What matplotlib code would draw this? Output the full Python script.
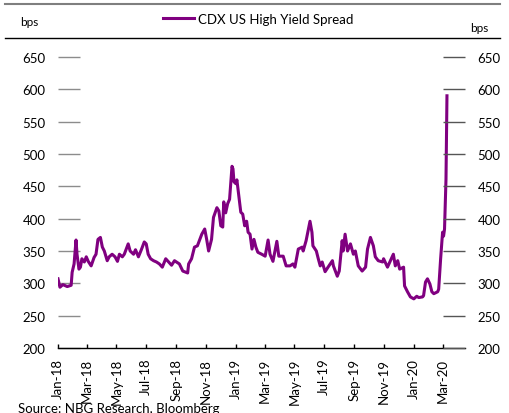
import matplotlib
matplotlib.use("Agg")
import matplotlib.pyplot as plt
import matplotlib.dates as mdates
from matplotlib.lines import Line2D
import pandas as pd

# ── data (bps) ───────────────────────────────────────────────────────────
dates = [
    "2018-01-01", "2018-01-05", "2018-01-11", "2018-01-20", "2018-01-28", "2018-01-30",
    "2018-02-03", "2018-02-07", "2018-02-09", "2018-02-13", "2018-02-16", "2018-02-19",
    "2018-02-24", "2018-02-28", "2018-03-04", "2018-03-10", "2018-03-16", "2018-03-20",
    "2018-03-24", "2018-03-29", "2018-04-02", "2018-04-06", "2018-04-12", "2018-04-16",
    "2018-04-22", "2018-04-28", "2018-05-03", "2018-05-07", "2018-05-13", "2018-05-17",
    "2018-05-25", "2018-05-29", "2018-06-05", "2018-06-09", "2018-06-15", "2018-06-21",
    "2018-06-27", "2018-07-01", "2018-07-05", "2018-07-10", "2018-07-16", "2018-07-22",
    "2018-07-28", "2018-08-03", "2018-08-10", "2018-08-16", "2018-08-22", "2018-08-28",
    "2018-09-01", "2018-09-07", "2018-09-14", "2018-09-24", "2018-09-26", "2018-10-02",
    "2018-10-08", "2018-10-14", "2018-10-23", "2018-10-29", "2018-11-02", "2018-11-06",
    "2018-11-12", "2018-11-16", "2018-11-23", "2018-11-27", "2018-12-01", "2018-12-05",
    "2018-12-07", "2018-12-11", "2018-12-15", "2018-12-19", "2018-12-24", "2018-12-26",
    "2018-12-28", "2019-01-01", "2019-01-03", "2019-01-07", "2019-01-11", "2019-01-15",
    "2019-01-19", "2019-01-23", "2019-01-26", "2019-01-30", "2019-02-03", "2019-02-07",
    "2019-02-11", "2019-02-15", "2019-02-23", "2019-03-02", "2019-03-08", "2019-03-12",
    "2019-03-18", "2019-03-26", "2019-03-30", "2019-04-08", "2019-04-14", "2019-04-22",
    "2019-04-28", "2019-05-02", "2019-05-09", "2019-05-17", "2019-05-19", "2019-05-25",
    "2019-05-29", "2019-06-02", "2019-06-06", "2019-06-08", "2019-06-15", "2019-06-19",
    "2019-06-23", "2019-06-27", "2019-07-03", "2019-07-09", "2019-07-18", "2019-07-20",
    "2019-07-28", "2019-08-01", "2019-08-07", "2019-08-09", "2019-08-13", "2019-08-18",
    "2019-08-24", "2019-08-30", "2019-09-03", "2019-09-09", "2019-09-17", "2019-09-24",
    "2019-09-28", "2019-10-04", "2019-10-10", "2019-10-14", "2019-10-20", "2019-10-29",
    "2019-10-31", "2019-11-08", "2019-11-14", "2019-11-20", "2019-11-24", "2019-11-29",
    "2019-12-03", "2019-12-11", "2019-12-13", "2019-12-19", "2019-12-25", "2020-01-01",
    "2020-01-07", "2020-01-11", "2020-01-19", "2020-01-21", "2020-01-25", "2020-01-29",
    "2020-02-03", "2020-02-07", "2020-02-11", "2020-02-19", "2020-02-21", "2020-02-25",
    "2020-02-29", "2020-03-02", "2020-03-04", "2020-03-07", "2020-03-09",
]
spread = [
    307, 294, 298, 295, 297, 317,
    330, 367, 345, 322, 325, 338,
    333, 341, 334, 327, 340, 345,
    368, 371, 356, 350, 335, 341,
    345, 341, 334, 345, 341, 345,
    361, 350, 345, 352, 341, 352,
    364, 361, 345, 338, 335, 333,
    330, 325, 338, 333, 328, 335,
    333, 330, 319, 316, 330, 338,
    356, 358, 376, 384, 368, 350,
    368, 402, 417, 412, 389, 387,
    426, 409, 423, 430, 481, 477,
    457, 454, 460, 435, 410, 407,
    389, 396, 379, 376, 353, 368,
    356, 348, 345, 342, 367, 345,
    334, 365, 342, 342, 327, 327,
    330, 325, 353, 356, 350, 366,
    381, 396, 379, 358, 350, 338,
    327, 333, 318, 325, 335, 327,
    311, 319, 366, 350, 376, 350,
    361, 345, 350, 327, 319, 325,
    353, 371, 358, 341, 335, 333,
    338, 325, 335, 345, 327, 335,
    322, 325, 296, 287, 279, 276,
    280, 278, 279, 281, 302, 307,
    299, 287, 284, 287, 291, 338,
    379, 373, 384, 461, 590,
]
y_ticks = [200, 250, 300, 350, 400, 450, 500, 550, 600, 650]
x_start, x_end = "2018-01-01", "2020-04-15"

series_name = "CDX US High Yield Spread"
source_note = "Source: NBG Research, Bloomberg"

dates = pd.to_datetime(dates)

plt.rcParams["font.family"] = ["Lato", "DejaVu Sans"]
plt.rcParams["font.size"] = 9.5

W, H = 509, 414
fig = plt.figure(figsize=(W / 100, H / 100), dpi=100)
ax = fig.add_axes([58 / W, 65 / H, 407 / W, 291 / H])

line, = ax.plot(dates, spread, color="#800080", lw=2.2, label=series_name)

ax.set_xlim(pd.Timestamp(x_start), pd.Timestamp(x_end))
ax.set_ylim(200, 650)
ax.set_yticks(y_ticks)

ax.xaxis.set_major_locator(mdates.MonthLocator(bymonth=[1, 3, 5, 7, 9, 11]))
ax.xaxis.set_major_formatter(mdates.DateFormatter("%b-%y"))
ax.tick_params(axis="x", direction="in", length=3, width=1, color="black",
               labelrotation=90, pad=7)
ax.tick_params(axis="y", direction="in", length=16, width=1, color="#8c8c8c", pad=9)

for s in ["left", "right", "top"]:
    ax.spines[s].set_visible(False)
ax.spines["bottom"].set_color("black")
ax.spines["bottom"].set_linewidth(1)

# right-hand axis mirrors the left one
ax2 = ax.twinx()
ax2.set_ylim(ax.get_ylim())
ax2.set_yticks(y_ticks)
ax2.tick_params(axis="y", direction="in", length=16, width=1, color="#555555", pad=9)
for s in ax2.spines.values():
    s.set_visible(False)

# header rules, units and legend
fig.add_artist(Line2D([5 / W, 500 / W], [1 - 5 / H] * 2, color="#7f7f7f", lw=1.5))
fig.add_artist(Line2D([5 / W, 500 / W], [1 - 39 / H] * 2, color="black", lw=1))
fig.text(20 / W, 1 - 22 / H, "bps", fontsize=8.5, va="center")
fig.text(470 / W, 1 - 28 / H, "bps", fontsize=8.5, va="center")
ax.legend(handles=[line], loc="center", bbox_to_anchor=(258 / W, 1 - 20 / H),
          bbox_transform=fig.transFigure, frameon=False, handlelength=2.4,
          handletextpad=0.3, borderaxespad=0)

fig.text(18 / W, 1 - 403 / H, source_note, fontsize=9.5, va="top")

fig.savefig("out.png", dpi=100)
